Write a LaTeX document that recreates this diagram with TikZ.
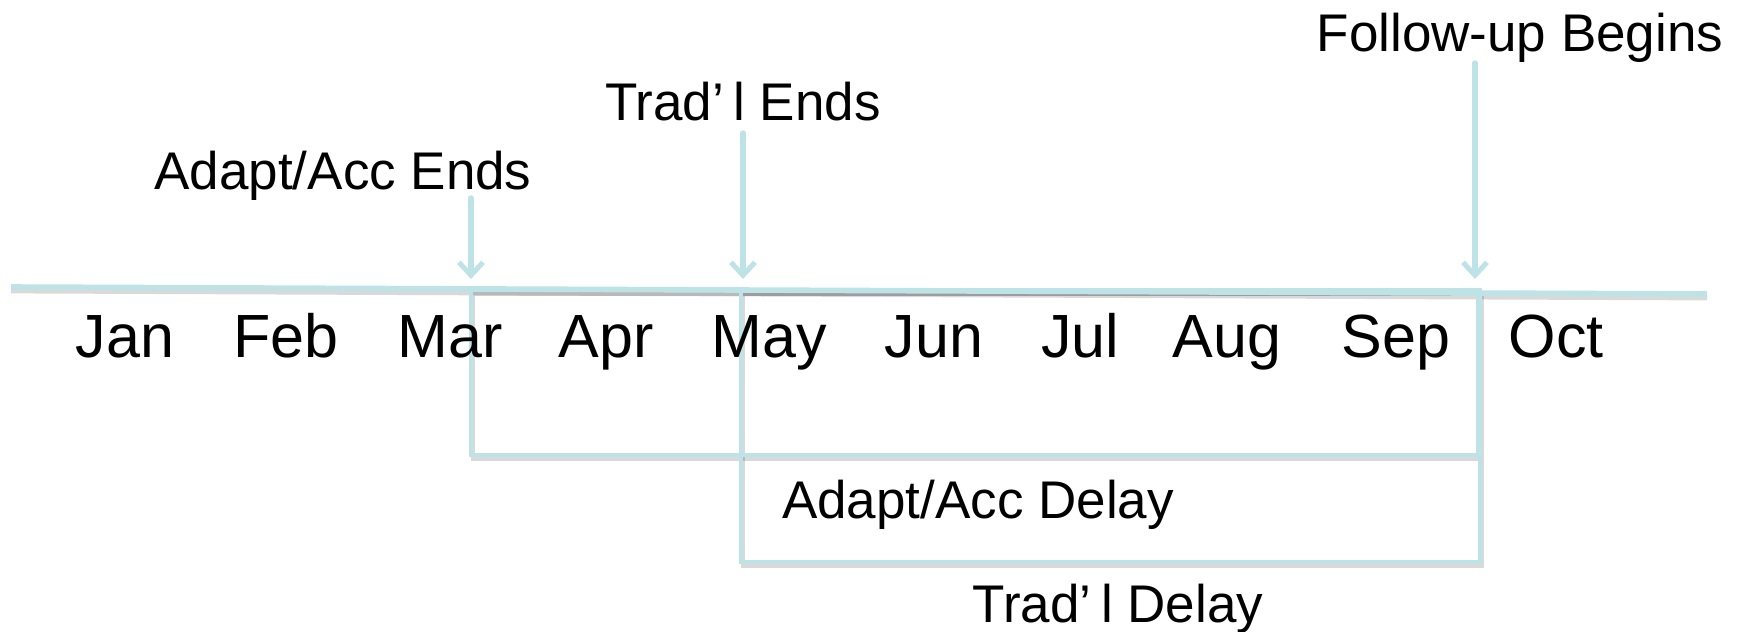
\documentclass[tikz,border=0pt]{standalone}
\usepackage{fontspec}
\setmainfont{Liberation Sans}
\usetikzlibrary{arrows.meta}
\definecolor{tl}{RGB}{190,227,230}
\begin{document}
\begin{tikzpicture}[x=0.5pt,y=-0.5pt,
  lbl/.style={anchor=base,inner sep=0pt,font=\fontsize{26.5}{30}\selectfont},
  mon/.style={anchor=base,inner sep=0pt,font=\fontsize{30.5}{34}\selectfont},
  axis/.style={draw=tl,line width=2.8pt},
  boxline/.style={draw=tl,line width=2pt},
  shad/.style={draw=black,opacity=0.15,line width=2.4pt},
  pointer/.style={draw=tl,line width=2.7pt,line cap=round,-{Straight Barb[length=6.5pt,width=12pt,line width=2.5pt]}}]
\useasboundingbox (0,0) rectangle (1741,632);
% coordinates
\coordinate (L) at (11,287);
\coordinate (R) at (1707,294);
\coordinate (m1) at (471,198);
\coordinate (m1t) at (471,279);
\coordinate (m2) at (743,133);
\coordinate (m2t) at (743,279);
\coordinate (m3) at (1475,63);
\coordinate (m3t) at (1475,279);
\coordinate (b1a) at (471,290);
\coordinate (b1b) at (1478,455);
\coordinate (b2a) at (741,290);
\coordinate (b2b) at (1480,562);
% shadows
\draw[shad] ([yshift=-2]L) -- ([yshift=-2]R);
\draw[shad] ([xshift=1,yshift=-2]b1a) rectangle ([xshift=1,yshift=-2]b1b);
\draw[shad] ([xshift=1,yshift=-2]b2a) rectangle ([xshift=1,yshift=-2]b2b);
% main line and boxes
\draw[axis] (L) -- (R);
\draw[boxline] (b1a) rectangle (b1b);
\draw[boxline] (b2a) rectangle (b2b);
% arrows
\draw[pointer] (m1) -- (m1t);
\draw[pointer] (m2) -- (m2t);
\draw[pointer] (m3) -- (m3t);
% months
\node[mon] (jan) at (125,357) {Jan};
\node[mon] (feb) at (286,357) {Feb};
\node[mon] (mar) at (450,357) {Mar};
\node[mon] (apr) at (606,357) {Apr};
\node[mon] (may) at (769,357) {May};
\node[mon] (jun) at (934,357) {Jun};
\node[mon] (jul) at (1080,357) {Jul};
\node[mon] (aug) at (1227,357) {Aug};
\node[mon] (sep) at (1396,357) {Sep};
\node[mon] (oct) at (1556,357) {Oct};
% labels
\node[lbl] (fub) at (1520,51) {Follow-up Begins};
\node[lbl] (tre) at (743,120) {Trad’\kern0.18em l Ends};
\node[lbl] (aae) at (343,189) {Adapt/Acc Ends};
\node[lbl] (aad) at (978,518) {Adapt/Acc Delay};
\node[lbl] (trd) at (1118,622) {Trad’\kern0.18em l Delay};
\end{tikzpicture}
\end{document}
